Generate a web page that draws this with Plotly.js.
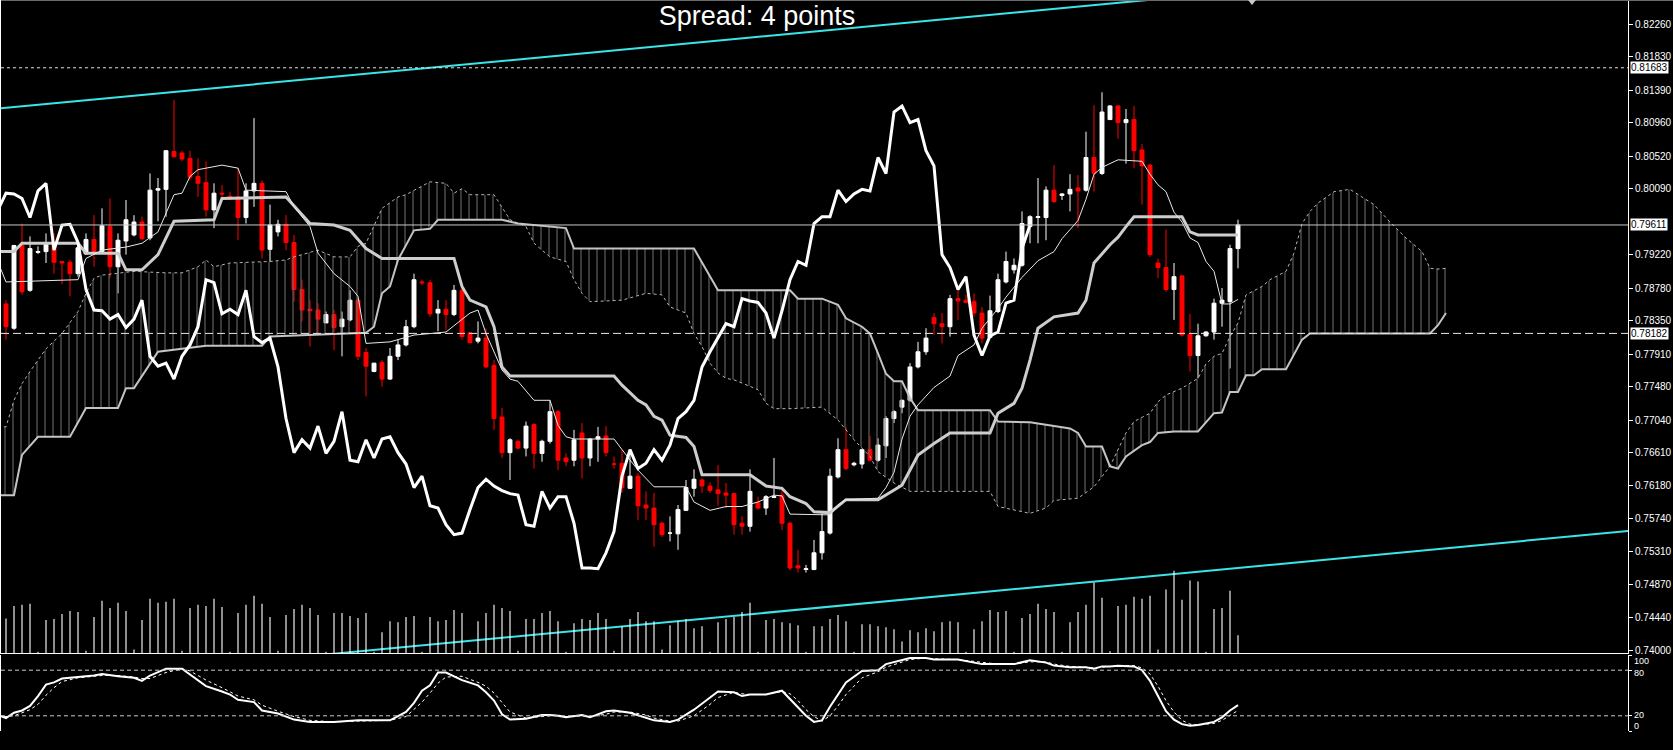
<!DOCTYPE html>
<html>
<head>
<meta charset="utf-8">
<script src="https://cdn.plot.ly/plotly-3.0.1.min.js"></script>
<style>
	html, body { margin: 0; padding: 0; background: #000; }
	#plotter-display { width: 1673px; height: 750px; }
</style>
</head>
<body>
<div id="plotter-display"></div>
<script>
// Daily bars, index 0 = 16 Aug 2017 (Sunday bars included), first bar is index -1
const FIRST_BAR = -1;
const OPEN = [
	0.7857, 0.7825, 0.7934, 0.7875, 0.7925, 0.7926, 0.7937, 0.7913, 0.7912, 0.7897,
	0.7923, 0.7942, 0.7926, 0.7959, 0.7906, 0.7940, 0.7948, 0.7965, 0.7944, 0.8007,
	0.8008, 0.8058, 0.8056, 0.8049, 0.8025, 0.8017, 0.7981, 0.8003, 0.7999, 0.7998,
	0.7971, 0.8006, 0.8016, 0.7929, 0.7952, 0.7962, 0.7938, 0.7876, 0.7850, 0.7849,
	0.7832, 0.7843, 0.7827, 0.7836, 0.7862, 0.7793, 0.7768, 0.7780, 0.7758, 0.7788,
	0.7803, 0.7827, 0.7886, 0.7885, 0.7845, 0.7850, 0.7843, 0.7875, 0.7819, 0.7808,
	0.7812, 0.7776, 0.7708, 0.7661, 0.7676, 0.7667, 0.7698, 0.7660, 0.7676, 0.7715,
	0.7654, 0.7651, 0.7687, 0.7654, 0.7679, 0.7683, 0.7646, 0.7647, 0.7614, 0.7630,
	0.7592, 0.7588, 0.7568, 0.7555, 0.7554, 0.7585, 0.7614, 0.7625, 0.7617, 0.7612,
	0.7608, 0.7607, 0.7568, 0.7564, 0.7595, 0.7588, 0.7602, 0.7605, 0.7568, 0.7512,
	0.7507, 0.7507, 0.7529, 0.7555, 0.7629, 0.7665, 0.7645, 0.7646, 0.7665, 0.7651,
	0.7670, 0.7706, 0.7721, 0.7730, 0.7774, 0.7794, 0.7839, 0.7831, 0.7827, 0.7864,
	0.7862, 0.7860, 0.7845, 0.7813, 0.7847, 0.7886, 0.7902, 0.7908, 0.7959, 0.7971,
	0.7971, 0.8007, 0.8000, 0.8002, 0.8010, 0.8007, 0.8050, 0.8029, 0.8100, 0.8118,
	0.8096, 0.8100, 0.8060, 0.8040, 0.7911, 0.7905, 0.7876, 0.7894, 0.7817, 0.7789,
	0.7815, 0.7820, 0.7858, 0.7860, 0.7930
];
const HIGH = [
	0.7862, 0.7935, 0.7963, 0.7946, 0.7933, 0.7950, 0.7950, 0.7913, 0.7915, 0.7935,
	0.7950, 0.7974, 0.7983, 0.7996, 0.7950, 0.7994, 0.7974, 0.7972, 0.8029, 0.8023,
	0.8060, 0.8126, 0.8059, 0.8059, 0.8049, 0.8045, 0.8016, 0.8014, 0.8005, 0.8036,
	0.8016, 0.8102, 0.8020, 0.7988, 0.7968, 0.7974, 0.7948, 0.7889, 0.7862, 0.7858,
	0.7847, 0.7849, 0.7847, 0.7875, 0.7864, 0.7799, 0.7779, 0.7783, 0.7799, 0.7810,
	0.7836, 0.7897, 0.7889, 0.7889, 0.7862, 0.7862, 0.7882, 0.7880, 0.7820, 0.7834,
	0.7825, 0.7783, 0.7720, 0.7680, 0.7678, 0.7702, 0.7700, 0.7678, 0.7730, 0.7717,
	0.7660, 0.7691, 0.7700, 0.7680, 0.7695, 0.7696, 0.7656, 0.7665, 0.7665, 0.7634,
	0.7610, 0.7608, 0.7570, 0.7577, 0.7592, 0.7625, 0.7639, 0.7627, 0.7622, 0.7645,
	0.7621, 0.7608, 0.7577, 0.7639, 0.7603, 0.7605, 0.7654, 0.7616, 0.7570, 0.7533,
	0.7513, 0.7546, 0.7581, 0.7640, 0.7680, 0.7695, 0.7649, 0.7665, 0.7683, 0.7680,
	0.7709, 0.7717, 0.7731, 0.7779, 0.7807, 0.7825, 0.7845, 0.7845, 0.7869, 0.7878,
	0.7869, 0.7871, 0.7853, 0.7868, 0.7897, 0.7926, 0.7917, 0.7979, 0.7974, 0.8023,
	0.8012, 0.8040, 0.8003, 0.8028, 0.8027, 0.8084, 0.8119, 0.8136, 0.8119, 0.8119,
	0.8114, 0.8118, 0.8068, 0.8042, 0.7917, 0.7955, 0.7911, 0.7895, 0.7844, 0.7831,
	0.7821, 0.7864, 0.7878, 0.7935, 0.7968
];
const LOW = [
	0.7810, 0.7823, 0.7869, 0.7873, 0.7923, 0.7911, 0.7897, 0.7883, 0.7867, 0.7893,
	0.7922, 0.7906, 0.7924, 0.7891, 0.7871, 0.7922, 0.7946, 0.7941, 0.7941, 0.7966,
	0.7972, 0.8050, 0.8045, 0.8020, 0.7998, 0.7972, 0.7957, 0.7998, 0.7994, 0.7941,
	0.7963, 0.7985, 0.7917, 0.7913, 0.7946, 0.7928, 0.7860, 0.7834, 0.7801, 0.7818,
	0.7832, 0.7796, 0.7788, 0.7834, 0.7783, 0.7735, 0.7767, 0.7748, 0.7757, 0.7783,
	0.7801, 0.7825, 0.7882, 0.7840, 0.7821, 0.7823, 0.7841, 0.7810, 0.7805, 0.7805,
	0.7772, 0.7691, 0.7654, 0.7625, 0.7665, 0.7656, 0.7640, 0.7649, 0.7673, 0.7638,
	0.7643, 0.7643, 0.7627, 0.7643, 0.7649, 0.7656, 0.7640, 0.7608, 0.7613, 0.7572,
	0.7572, 0.7537, 0.7550, 0.7544, 0.7533, 0.7584, 0.7603, 0.7608, 0.7608, 0.7591,
	0.7588, 0.7553, 0.7553, 0.7557, 0.7586, 0.7579, 0.7601, 0.7559, 0.7506, 0.7503,
	0.7503, 0.7506, 0.7520, 0.7553, 0.7627, 0.7638, 0.7643, 0.7640, 0.7651, 0.7649,
	0.7654, 0.7700, 0.7713, 0.7728, 0.7772, 0.7790, 0.7816, 0.7805, 0.7814, 0.7836,
	0.7858, 0.7840, 0.7805, 0.7812, 0.7845, 0.7884, 0.7897, 0.7906, 0.7937, 0.7937,
	0.7941, 0.7990, 0.7994, 0.7979, 0.7957, 0.8005, 0.8005, 0.8027, 0.8100, 0.8075,
	0.8042, 0.8036, 0.7988, 0.7919, 0.7891, 0.7873, 0.7836, 0.7814, 0.7768, 0.7759,
	0.7814, 0.7810, 0.7827, 0.7772, 0.7904
];
const CLOSE = [
	0.7827, 0.7934, 0.7873, 0.7930, 0.7926, 0.7937, 0.7912, 0.7911, 0.7897, 0.7931,
	0.7942, 0.7926, 0.7960, 0.7906, 0.7941, 0.7968, 0.7965, 0.7943, 0.8007, 0.8009,
	0.8059, 0.8051, 0.8048, 0.8024, 0.8016, 0.7981, 0.8003, 0.8002, 0.7996, 0.7971,
	0.8006, 0.8016, 0.7928, 0.7961, 0.7962, 0.7938, 0.7876, 0.7849, 0.7848, 0.7837,
	0.7843, 0.7826, 0.7837, 0.7862, 0.7788, 0.7775, 0.7779, 0.7758, 0.7788, 0.7803,
	0.7827, 0.7889, 0.7885, 0.7844, 0.7850, 0.7843, 0.7875, 0.7814, 0.7806, 0.7812,
	0.7774, 0.7706, 0.7661, 0.7678, 0.7667, 0.7696, 0.7660, 0.7676, 0.7715, 0.7651,
	0.7649, 0.7678, 0.7654, 0.7679, 0.7682, 0.7661, 0.7646, 0.7615, 0.7630, 0.7591,
	0.7588, 0.7566, 0.7553, 0.7555, 0.7586, 0.7615, 0.7626, 0.7617, 0.7611, 0.7607,
	0.7605, 0.7566, 0.7564, 0.7610, 0.7588, 0.7603, 0.7603, 0.7568, 0.7509, 0.7509,
	0.7508, 0.7529, 0.7557, 0.7630, 0.7665, 0.7640, 0.7647, 0.7665, 0.7651, 0.7671,
	0.7706, 0.7715, 0.7730, 0.7774, 0.7794, 0.7812, 0.7831, 0.7827, 0.7864, 0.7861,
	0.7859, 0.7845, 0.7812, 0.7848, 0.7889, 0.7913, 0.7908, 0.7963, 0.7972, 0.7972,
	0.8007, 0.7992, 0.8002, 0.8008, 0.8006, 0.8050, 0.8029, 0.8110, 0.8118, 0.8096,
	0.8100, 0.8059, 0.8039, 0.7922, 0.7905, 0.7876, 0.7893, 0.7816, 0.7789, 0.7815,
	0.7820, 0.7858, 0.7862, 0.7930, 0.79611
];
const VOLUME = [
	10200, 13900, 14200, 14500, 400, 9700, 10000, 11500, 12400, 12100,
	700, 10600, 15400, 13300, 14800, 12400, 1000, 9700, 16000, 14800,
	15100, 16000, 700, 13300, 14200, 13900, 16000, 13600, 400, 11800,
	14200, 16900, 14500, 10600, 700, 11200, 13000, 14200, 13300, 11200,
	400, 11800, 11800, 10900, 10300, 11800, 400, 6100, 9400, 9100,
	10600, 10900, 400, 10600, 9400, 9700, 12700, 11800, 700, 9400,
	11800, 14200, 13300, 12400, 700, 10000, 10000, 11800, 12400, 9400,
	400, 8800, 10000, 9700, 11800, 10000, 700, 7900, 10000, 12100,
	9400, 9400, 1000, 8200, 9400, 10000, 7300, 7900, 400, 9100,
	10000, 10600, 12100, 14800, 400, 9700, 10000, 9100, 8800, 8200,
	400, 7900, 7900, 10000, 11200, 9400, 400, 8500, 8500, 7900,
	7600, 7000, 3400, 6700, 6100, 7300, 6400, 9100, 9400, 9100,
	400, 7000, 9400, 12700, 12100, 12400, 400, 10300, 11500, 14500,
	13000, 12100, 400, 9100, 12100, 14200, 20800, 16300, 500, 13900,
	14200, 16600, 16000, 16900, 1000, 18700, 24300, 15700, 21400, 21100,
	400, 13000, 13300, 18400, 5200
];

// Ichimoku (9, 26, 52) lines, x = bar index
const TENKAN_X = [-2, -1, 8, 9, 11, 14, 16, 18, 20, 21, 22, 23, 26, 28, 29, 34, 35, 37, 38, 40, 42, 43, 44, 47, 50, 52, 54, 57, 58, 59, 60, 61, 62, 63, 65, 67, 68, 69, 70, 75, 76, 78, 80, 84, 85, 87, 89, 91, 93, 95, 96, 97, 102, 103, 104, 108, 109, 110, 111, 112, 113, 115, 117, 118, 120, 121, 123, 124, 126, 128, 130, 131, 132, 133, 134, 135, 136, 138, 141, 142, 143, 144, 145, 146, 147, 148, 149, 150, 151, 152, 153];
const TENKAN_Y = [0.7912, 0.7886, 0.7889, 0.7917, 0.7928, 0.7932, 0.7937, 0.7952, 0.8001, 0.8003, 0.8025, 0.8034, 0.8040, 0.8036, 0.8007, 0.8005, 0.7985, 0.7959, 0.7924, 0.7897, 0.7880, 0.7867, 0.7805, 0.7807, 0.7816, 0.7818, 0.7820, 0.7845, 0.7849, 0.7818, 0.7795, 0.7770, 0.7758, 0.7755, 0.7730, 0.7730, 0.7697, 0.7682, 0.7679, 0.7679, 0.7665, 0.7638, 0.7616, 0.7616, 0.7596, 0.7585, 0.7590, 0.7590, 0.7596, 0.7605, 0.7604, 0.7580, 0.7579, 0.7592, 0.7599, 0.7601, 0.7615, 0.7635, 0.7679, 0.7709, 0.7724, 0.7747, 0.7762, 0.7789, 0.7803, 0.7825, 0.7851, 0.7866, 0.7892, 0.7914, 0.7926, 0.7943, 0.7955, 0.7967, 0.7995, 0.8028, 0.8037, 0.8047, 0.8045, 0.8028, 0.8014, 0.8005, 0.7978, 0.7965, 0.7944, 0.7938, 0.7913, 0.7900, 0.7857, 0.7857, 0.7863];
const KIJUN_X = [-2, 0, 1, 8, 9, 13, 14, 16, 18, 20, 25, 26, 34, 37, 40, 42, 44, 46, 55, 56, 57, 59, 60, 61, 62, 75, 76, 78, 79, 80, 81, 82, 84, 85, 86, 92, 94, 96, 97, 99, 100, 102, 104, 108, 111, 113, 115, 117, 122, 123, 125, 126, 127, 128, 130, 133, 134, 135, 137, 138, 139, 140, 146, 147, 148, 153];
const KIJUN_Y = [0.7926, 0.7926, 0.7937, 0.7937, 0.7924, 0.7924, 0.7902, 0.7902, 0.7922, 0.7966, 0.7968, 0.7996, 0.7998, 0.7963, 0.7961, 0.7954, 0.7930, 0.7917, 0.7917, 0.7880, 0.7862, 0.7853, 0.7827, 0.7774, 0.7762, 0.7762, 0.7750, 0.7730, 0.7724, 0.7709, 0.7704, 0.7684, 0.7681, 0.7669, 0.7632, 0.7632, 0.7617, 0.7614, 0.7603, 0.7594, 0.7583, 0.7582, 0.7599, 0.7599, 0.7618, 0.7658, 0.7673, 0.7687, 0.7687, 0.7713, 0.7726, 0.7746, 0.7783, 0.7825, 0.7840, 0.7845, 0.7862, 0.7911, 0.7935, 0.7945, 0.7959, 0.7972, 0.7972, 0.7952, 0.7948, 0.7948];
const SPAN_A_X = [-2, -1, 0, 1, 2, 4, 6, 8, 9, 10, 11, 15, 19, 21, 23, 24, 25, 27, 32, 34, 35, 38, 40, 42, 43, 44, 46, 47, 48, 49, 51, 52, 54, 55, 56, 57, 60, 61, 62, 64, 65, 67, 69, 70, 71, 72, 76, 79, 81, 82, 84, 85, 86, 87, 88, 89, 90, 93, 94, 95, 97, 101, 103, 105, 107, 108, 110, 112, 122, 123, 127, 129, 130, 133, 135, 137, 138, 139, 140, 142, 143, 144, 146, 148, 149, 150, 151, 152, 153, 154, 156, 157, 159, 160, 161, 162, 163, 165, 167, 168, 170, 172, 174, 176, 177, 178, 179];
const SPAN_A_Y = [0.7695, 0.7695, 0.7730, 0.7752, 0.7768, 0.7798, 0.7818, 0.7847, 0.7871, 0.7891, 0.7895, 0.7900, 0.7898, 0.7898, 0.7906, 0.7915, 0.7906, 0.7911, 0.7913, 0.7915, 0.7919, 0.7928, 0.7919, 0.7919, 0.7933, 0.7937, 0.7983, 0.7990, 0.7998, 0.8001, 0.8012, 0.8018, 0.8016, 0.8003, 0.8009, 0.8001, 0.8001, 0.7985, 0.7968, 0.7959, 0.7937, 0.7919, 0.7913, 0.7889, 0.7871, 0.7860, 0.7862, 0.7871, 0.7869, 0.7853, 0.7845, 0.7818, 0.7801, 0.7779, 0.7766, 0.7759, 0.7757, 0.7744, 0.7726, 0.7719, 0.7719, 0.7721, 0.7704, 0.7678, 0.7656, 0.7636, 0.7621, 0.7610, 0.7610, 0.7590, 0.7581, 0.7588, 0.7598, 0.7601, 0.7616, 0.7643, 0.7665, 0.7687, 0.7702, 0.7713, 0.7728, 0.7737, 0.7746, 0.7759, 0.7778, 0.7788, 0.7792, 0.7814, 0.7832, 0.7869, 0.7880, 0.7889, 0.7900, 0.7924, 0.7963, 0.7979, 0.7990, 0.8005, 0.8008, 0.8001, 0.7988, 0.7965, 0.7944, 0.7926, 0.7904, 0.7903, 0.7904];
const SPAN_B_X = [-2, 0, 1, 3, 7, 9, 13, 14, 15, 18, 24, 31, 32, 44, 45, 46, 47, 48, 50, 52, 53, 61, 63, 69, 70, 85, 88, 97, 98, 101, 103, 104, 106, 107, 108, 109, 110, 111, 112, 113, 122, 123, 127, 132, 133, 134, 136, 137, 138, 139, 141, 142, 143, 145, 148, 150, 151, 152, 153, 154, 155, 156, 159, 161, 162, 177, 178, 179];
const SPAN_B_Y = [0.7605, 0.7605, 0.7658, 0.7682, 0.7682, 0.7720, 0.7720, 0.7746, 0.7746, 0.7794, 0.7802, 0.7802, 0.7814, 0.7819, 0.7827, 0.7871, 0.7880, 0.7915, 0.7954, 0.7956, 0.7968, 0.7968, 0.7963, 0.7957, 0.7930, 0.7930, 0.7875, 0.7875, 0.7864, 0.7864, 0.7856, 0.7838, 0.7827, 0.7818, 0.7792, 0.7765, 0.7755, 0.7755, 0.7733, 0.7717, 0.7717, 0.7702, 0.7701, 0.7693, 0.7687, 0.7669, 0.7669, 0.7643, 0.7640, 0.7656, 0.7671, 0.7675, 0.7687, 0.7689, 0.7689, 0.7713, 0.7714, 0.7741, 0.7741, 0.7763, 0.7763, 0.7771, 0.7771, 0.7810, 0.7818, 0.7818, 0.7829, 0.7845];
const CHIKOU_SHIFT = 26;

// Stochastic oscillator, main and signal
const STOCH_X = [-2, -1, 0, 1, 2, 3, 4, 5, 6, 8, 10, 11, 13, 15, 16, 17, 19, 21, 22, 24, 26, 27, 28, 30, 31, 33, 35, 37, 40, 43, 47, 49, 50, 51, 52, 53, 54, 56, 58, 59, 60, 61, 62, 64, 66, 67, 68, 69, 71, 72, 74, 75, 77, 79, 80, 82, 83, 85, 87, 88, 90, 91, 92, 94, 96, 97, 98, 99, 100, 101, 102, 103, 104, 106, 108, 109, 111, 112, 114, 115, 118, 121, 123, 125, 127, 129, 130, 132, 134, 135, 136, 137, 138, 140, 141, 142, 143, 144, 145, 146, 147, 148, 149, 150, 151, 152, 153];
const STOCH_MAIN = [21, 17, 24, 27, 33, 46, 61, 64, 69, 71, 73, 75, 72, 70, 66, 73, 82, 82, 74, 59, 52, 48, 41, 38, 27, 23, 15, 12, 12, 14, 14, 25, 37, 53, 60, 77, 77, 67, 60, 51, 40, 22, 15, 16, 21, 21, 20, 18, 21, 18, 26, 27, 24, 17, 14, 12, 15, 28, 44, 52, 51, 46, 48, 48, 53, 42, 30, 20, 12, 14, 32, 48, 64, 79, 80, 88, 94, 96, 96, 94, 94, 88, 88, 88, 93, 90, 86, 84, 84, 82, 85, 85, 86, 85, 80, 66, 46, 26, 15, 9, 7, 8, 10, 12, 18, 27, 34];
const STOCH_SIGNAL = [20, 19, 20, 24, 28, 35, 47, 57, 65, 70, 72, 73, 73, 71, 69, 69, 77, 82, 79, 67, 57, 52, 46, 41, 34, 26, 19, 14, 12, 13, 14, 19, 28, 38, 50, 63, 71, 72, 64, 59, 50, 38, 25, 17, 19, 20, 21, 19, 20, 19, 22, 25, 25, 21, 17, 13, 13, 20, 35, 44, 51, 49, 48, 48, 52, 49, 40, 28, 19, 13, 20, 33, 48, 70, 78, 84, 91, 94, 96, 95, 94, 90, 88, 88, 91, 91, 88, 85, 84, 83, 84, 85, 86, 86, 83, 75, 59, 40, 25, 14, 9, 8, 9, 10, 14, 20, 27];
const STOCH_LEVELS = [20, 80];
const STOCH_TICKS = [100, 80, 20, 0];

// Price levels and the trend channel
const STOP_LEVEL = 0.81683;
const BID_LEVEL = 0.79611;
const SUPPORT_LEVEL = 0.78182;
const TREND_UPPER_X = [-2, 202];
const TREND_UPPER_Y = [0.81146, 0.83176];
const TREND_LOWER_X = [20, 202];
const TREND_LOWER_Y = [0.73760, 0.75580];

// 0.79650 sits under the bid box, as in the terminal
const PRICE_TICKS = [0.8226, 0.8183, 0.8139, 0.8096, 0.8052, 0.8009, 0.7922, 0.7878, 0.7835, 0.7791, 0.7748, 0.7704, 0.7661, 0.7618, 0.7574, 0.7531, 0.7487, 0.7444, 0.7400];
const DATE_TICKS = [0, 8, 16, 24, 32, 40, 48, 56, 64, 72, 80, 88, 96, 104, 112, 120, 128, 136, 144, 152];
const DATE_LABELS = ['16 Aug 2017', '25 Aug 2017', '4 Sep 2017', '13 Sep 2017', '22 Sep 2017', '2 Oct 2017', '11 Oct 2017', '20 Oct 2017', '30 Oct 2017', '8 Nov 2017', '17 Nov 2017', '27 Nov 2017', '6 Dec 2017', '15 Dec 2017', '27 Dec 2017', '8 Jan 2018', '17 Jan 2018', '26 Jan 2018', '5 Feb 2018', '14 Feb 2018'];

const BARS = CLOSE.map((c, k) => FIRST_BAR + k);
const X_RANGE = [-1.625, 201.75];
const AXIS_FONT = { family: 'Liberation Sans, Arial, sans-serif', size: 10, color: '#ffffff' };

function line(x, y, color, width, dash, yaxis) {
	return {
		type: 'scatter', mode: 'lines', x: x, y: y,
		line: { color: color, width: width, dash: dash || 'solid' },
		xaxis: 'x', yaxis: yaxis || 'y',
		hoverinfo: 'skip', showlegend: false,
	};
};

function levelShape(value, yref, color, dash) {
	return {
		type: 'line', xref: 'paper', x0: 0, x1: 1, yref: yref, y0: value, y1: value,
		line: { color: color, width: 1, dash: dash },
	};
};

function priceBox(value) {
	return {
		xref: 'paper', x: 1, xanchor: 'left', xshift: 2,
		yref: 'y', y: value, yanchor: 'middle',
		text: value.toFixed(5), showarrow: false,
		bgcolor: '#ffffff', borderpad: 0,
		font: { family: AXIS_FONT.family, size: 10, color: '#000000' },
	};
};

// stochastic scale labels are nudged inside the pane like the terminal does
function stochLabel(value) {
	const nudge = { 100: -6, 80: -3, 20: 1, 0: 5 };
	return {
		xref: 'paper', x: 1, xanchor: 'left', xshift: 4,
		yref: 'y2', y: value, yanchor: 'middle', yshift: nudge[value],
		text: String(value), showarrow: false,
		font: { family: AXIS_FONT.family, size: 9, color: '#ffffff' },
	};
};

const data = [
	{
		type: 'bar', x: BARS, y: VOLUME, width: 0.14,
		marker: { color: '#ffffff', line: { width: 0 } },
		xaxis: 'x', yaxis: 'y3', hoverinfo: 'skip', showlegend: false,
	},
	line(SPAN_A_X, SPAN_A_Y, '#b4b4b4', 1, 'dot'),
	Object.assign(line(SPAN_B_X, SPAN_B_Y, '#c4c4c4', 2), {
		fill: 'tonexty',
		fillcolor: 'rgba(0,0,0,0)',
		fillpattern: { shape: '|', size: 8, solidity: 0.13, fgcolor: '#6c6c6c', bgcolor: 'rgba(0,0,0,0)' },
	}),
	{
		type: 'candlestick', x: BARS, open: OPEN, high: HIGH, low: LOW, close: CLOSE,
		increasing: { line: { color: '#ffffff', width: 1 }, fillcolor: '#ffffff' },
		decreasing: { line: { color: '#ff0000', width: 1 }, fillcolor: '#ff0000' },
		whiskerwidth: 0, xaxis: 'x', yaxis: 'y', hoverinfo: 'skip', showlegend: false,
	},
	line(KIJUN_X, KIJUN_Y, '#cdcdcd', 3),
	line(TENKAN_X, TENKAN_Y, '#e8e8e8', 1),
	line(BARS.map(b => b - CHIKOU_SHIFT), CLOSE, '#ffffff', 3),
	line(TREND_UPPER_X, TREND_UPPER_Y, '#3ce4e8', 2),
	line(TREND_LOWER_X, TREND_LOWER_Y, '#3ce4e8', 2),
	line(STOCH_X, STOCH_SIGNAL, '#ffffff', 1, 'dot', 'y2'),
	line(STOCH_X, STOCH_MAIN, '#ffffff', 2, 'solid', 'y2'),
];

const layout = {
	width: 1673,
	height: 750,
	margin: { t: 0, l: 1, r: 45, b: 19, pad: 0 },
	paper_bgcolor: '#000000',
	plot_bgcolor: '#000000',
	font: AXIS_FONT,
	showlegend: false,
	hovermode: false,
	title: {
		text: 'Spread: 4 points',
		font: { family: 'Liberation Sans, Arial, sans-serif', size: 27, color: '#ffffff' },
		xref: 'container', x: 757 / 1673, xanchor: 'center',
		yref: 'container', y: 1 - 16 / 750, yanchor: 'middle',
	},
	xaxis: {
		range: X_RANGE, anchor: 'y', rangeslider: { visible: false },
		showline: true, linecolor: '#ffffff', linewidth: 1,
		showticklabels: false, ticks: '', showgrid: false, zeroline: false,
	},
	xaxis2: {
		range: X_RANGE, matches: 'x', anchor: 'y2',
		showline: true, mirror: true, linecolor: '#ffffff', linewidth: 1,
		ticks: 'outside', ticklen: 4, tickcolor: '#ffffff',
		tickvals: DATE_TICKS, ticktext: DATE_LABELS, tickfont: AXIS_FONT,
		ticklabelshift: 31, showgrid: false, zeroline: false,
	},
	yaxis: {
		domain: [78 / 731, 1], range: [0.739695, 0.825763], side: 'right',
		showline: true, mirror: true, linecolor: '#ffffff', linewidth: 1,
		ticks: 'outside', ticklen: 4, tickcolor: '#ffffff',
		tickvals: PRICE_TICKS, tickformat: '.5f', tickfont: AXIS_FONT,
		showgrid: false, zeroline: false,
	},
	yaxis2: {
		domain: [0, 76 / 731], range: [0, 100], side: 'right',
		showline: true, mirror: true, linecolor: '#ffffff', linewidth: 1,
		ticks: 'outside', ticklen: 3, tickcolor: '#ffffff',
		tickvals: STOCH_TICKS, showticklabels: false,
		showgrid: false, zeroline: false,
	},
	yaxis3: {
		overlaying: 'y', range: [0, 192635], visible: false,
	},
	shapes: [
		levelShape(STOP_LEVEL, 'y', '#e0e0e0', '3px,3px'),
		levelShape(BID_LEVEL, 'y', '#c8c8c8', 'solid'),
		levelShape(SUPPORT_LEVEL, 'y', '#e8e8e8', '8px,4px'),
		levelShape(STOCH_LEVELS[0], 'y2', '#c8c8c8', '4px,3px'),
		levelShape(STOCH_LEVELS[1], 'y2', '#c8c8c8', '4px,3px'),
		{
			type: 'line', xref: 'paper', x0: 0, x1: 1.03, yref: 'paper', y0: 1, y1: 1,
			line: { color: '#6a6a6a', width: 2 },
		},
		{
			type: 'path', xref: 'x', yref: 'paper', xsizemode: 'pixel', ysizemode: 'pixel',
			xanchor: 154.75, yanchor: 1, path: 'M -4 0 L 4 0 L 0 -5 Z',
			fillcolor: '#c8c8c8', line: { width: 0 },
		},
	],
	annotations: [STOP_LEVEL, BID_LEVEL, SUPPORT_LEVEL].map(priceBox).concat(STOCH_TICKS.map(stochLabel)),
};

Plotly.newPlot('plotter-display', data, layout, { displayModeBar: false, staticPlot: true });
</script>
</body>
</html>
